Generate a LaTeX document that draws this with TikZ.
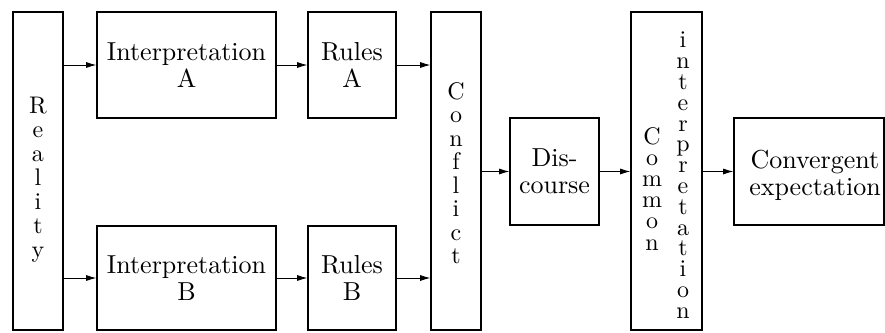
\documentclass[tikz,border=0pt]{standalone}
\usepackage{fontspec}
\setmainfont{lmroman10-regular}[Extension=.otf]
\usetikzlibrary{arrows.meta}
\begin{document}
\begin{tikzpicture}[x=1pt,y=-1pt,
  box/.style={draw, line width=1.6pt, inner sep=0pt, align=center,
    font=\fontsize{26}{27}\selectfont},
  vtext/.style={inner sep=0pt, align=center, anchor=north},
  flow/.style={line width=0.8pt, -{Latex[length=10pt,width=6pt]}}]
\useasboundingbox (0,0) rectangle (885,332);

% boxes
\node[box, minimum width=50pt,  minimum height=318pt] (real) at (38,171) {};
\node[box, minimum width=179pt, minimum height=106pt] (ia)   at (186.5,65) {Interpretation\\A};
\node[box, minimum width=179pt, minimum height=104pt] (ib)   at (186.5,278) {Interpretation\\B};
\node[box, minimum width=88pt,  minimum height=106pt] (ra)   at (352,65) {Rules\\A};
\node[box, minimum width=88pt,  minimum height=104pt] (rb)   at (352,278) {Rules\\B};
\node[box, minimum width=50pt,  minimum height=318pt] (conf) at (456,171) {};
\node[box, minimum width=89pt,  minimum height=107pt] (disc) at (554.5,171.5) {Dis-\\course};
\node[box, minimum width=71pt,  minimum height=318pt] (comm) at (666.5,171) {};
\node[box, minimum width=150pt, minimum height=107pt] (conv) at (809,171.5) {};

% stacked letters and offset labels
\node[vtext, font=\fontsize{24}{24}\selectfont] (realtxt) at (38,97)
  {R\\e\\a\\l\\i\\t\\y};
\node[vtext, font=\fontsize{24}{23.5}\selectfont] (conftxt) at (456,82)
  {C\\o\\n\\f\\l\\i\\c\\t};
\node[vtext, font=\fontsize{24}{21.2}\selectfont] (commtxt) at (652,127)
  {C\\o\\m\\m\\o\\n};
\node[vtext, font=\fontsize{24}{20.8}\selectfont] (interptxt) at (683,32)
  {i\\n\\t\\e\\r\\p\\r\\e\\t\\a\\t\\i\\o\\n};
\node[inner sep=0pt, align=center, font=\fontsize{26}{27}\selectfont] (convtxt)
  at (815,175) {Convergent\\expectation};

% connectors
\draw[flow] (real.east |- ia.west) -- (ia.west);
\draw[flow] (real.east |- ib.west) -- (ib.west);
\draw[flow] (ia.east) -- (ra.west);
\draw[flow] (ib.east) -- (rb.west);
\draw[flow] (ra.east) -- (ra.east -| conf.west);
\draw[flow] (rb.east) -- (rb.east -| conf.west);
\draw[flow] (conf.east |- disc.west) -- (disc.west);
\draw[flow] (disc.east) -- (disc.east -| comm.west);
\draw[flow] (comm.east |- conv.west) -- (conv.west);
\end{tikzpicture}
\end{document}
